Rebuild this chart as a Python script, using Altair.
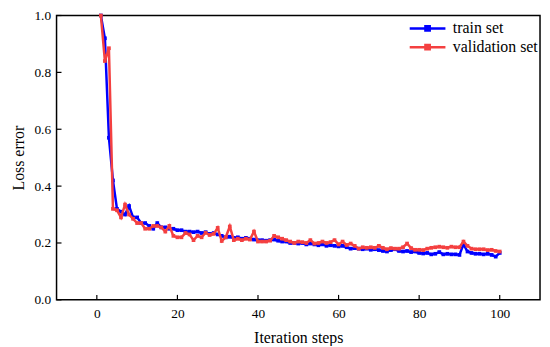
import altair as alt
import pandas as pd

steps = list(range(1, 101))

train = [1.00, 0.92, 0.57, 0.42, 0.32, 0.31, 0.30, 0.33, 0.29, 0.29,
         0.27, 0.27, 0.26, 0.25, 0.27, 0.255, 0.255, 0.25, 0.25, 0.245,
         0.245, 0.24, 0.24, 0.238, 0.24, 0.235, 0.238, 0.232, 0.235, 0.23,
         0.225, 0.22, 0.222, 0.218, 0.22, 0.215, 0.218, 0.215, 0.212, 0.21,
         0.21, 0.208, 0.21, 0.212, 0.208, 0.205, 0.205, 0.20, 0.20, 0.198,
         0.20, 0.195, 0.198, 0.195, 0.192, 0.195, 0.19, 0.192, 0.19, 0.188,
         0.19, 0.185, 0.18, 0.182, 0.18, 0.178, 0.18, 0.176, 0.178, 0.175,
         0.172, 0.17, 0.175, 0.178, 0.172, 0.17, 0.172, 0.168, 0.17, 0.165,
         0.163, 0.165, 0.16, 0.162, 0.168, 0.16, 0.162, 0.16, 0.16, 0.158,
         0.195, 0.17, 0.165, 0.162, 0.162, 0.16, 0.162, 0.158, 0.152, 0.165]

validation = [1.00, 0.84, 0.885, 0.32, 0.315, 0.29, 0.335, 0.30, 0.285, 0.27,
              0.27, 0.25, 0.25, 0.26, 0.26, 0.255, 0.24, 0.26, 0.225, 0.22,
              0.22, 0.235, 0.23, 0.21, 0.225, 0.22, 0.236, 0.228, 0.232, 0.253,
              0.207, 0.22, 0.258, 0.21, 0.215, 0.21, 0.215, 0.212, 0.24, 0.205,
              0.205, 0.205, 0.208, 0.225, 0.22, 0.215, 0.21, 0.205, 0.20, 0.205,
              0.203, 0.20, 0.21, 0.198, 0.20, 0.205, 0.20, 0.203, 0.21, 0.195,
              0.205, 0.193, 0.198, 0.19, 0.18, 0.185, 0.183, 0.185, 0.183, 0.19,
              0.183, 0.178, 0.182, 0.18, 0.18, 0.185, 0.198, 0.182, 0.176, 0.176,
              0.175, 0.18, 0.183, 0.185, 0.187, 0.185, 0.183, 0.187, 0.185, 0.185,
              0.205, 0.19, 0.18, 0.178, 0.178, 0.178, 0.175, 0.176, 0.172, 0.17]

series_names = ["train set", "validation set"]
series_colors = ["#0000ff", "#f44040"]
x_ticks = [0, 20, 40, 60, 80, 100]
y_ticks = [0.0, 0.2, 0.4, 0.6, 0.8, 1.0]

df = pd.DataFrame({
    "step": steps * 2,
    "loss": train + validation,
    "set": [series_names[0]] * len(steps) + [series_names[1]] * len(steps),
})

W, H = 488, 287
FONT = "Liberation Serif"

xscale = alt.Scale(domain=[-10, 110], nice=False, zero=False)
yscale = alt.Scale(domain=[0, 1], nice=False)

color = alt.Color(
    "set:N",
    scale=alt.Scale(domain=series_names, range=series_colors),
    legend=alt.Legend(
        title=None, orient="none", legendX=355, legendY=5,
        symbolType="M-1,0L1,0M-0.12,-0.12L0.12,-0.12L0.12,0.12L-0.12,0.12Z",
        symbolSize=1300, symbolStrokeWidth=2.5, symbolFillColor="transparent",
        clipHeight=16,
        labelFont=FONT, labelFontSize=16, labelColor="black",
        rowPadding=3, labelOffset=6,
    ),
)

xaxis = alt.Axis(values=x_ticks, format="d", labelFont=FONT, labelFontSize=13.5,
                 labelColor="black", labelPadding=7, titlePadding=10,
                 titleFont=FONT, titleFontSize=16, titleFontWeight="normal",
                 titleColor="black", domain=False, ticks=False, grid=False)
yaxis = alt.Axis(values=y_ticks, format=".1f", labelFont=FONT, labelFontSize=13.5,
                 labelColor="black", labelPadding=6, titlePadding=7,
                 titleFont=FONT, titleFontSize=16, titleFontWeight="normal",
                 titleColor="black", domain=False, ticks=False, grid=False)

base = alt.Chart(df).mark_line(
    strokeWidth=2.5,
    point=alt.OverlayMarkDef(shape="square", size=14, filled=True),
).encode(
    x=alt.X("step:Q", scale=xscale, title="Iteration steps", axis=xaxis),
    y=alt.Y("loss:Q", scale=yscale, title="Loss error", axis=yaxis),
    color=color,
)

train_line = base.transform_filter(alt.datum.set == series_names[0])
val_line = base.transform_filter(alt.datum.set == series_names[1])

xt = alt.Chart(pd.DataFrame({"t": x_ticks})).mark_rule(color="black", strokeWidth=1.2).encode(
    x=alt.X("t:Q", scale=xscale, title="Iteration steps", axis=xaxis),
    y=alt.value(H), y2=alt.value(H - 5))
yt = alt.Chart(pd.DataFrame({"t": y_ticks})).mark_rule(color="black", strokeWidth=1.2).encode(
    y=alt.Y("t:Q", scale=yscale, title="Loss error", axis=yaxis),
    x=alt.value(0), x2=alt.value(5))

chart = alt.layer(train_line, val_line, xt, yt).properties(
    width=W, height=H,
    autosize=alt.AutoSizeParams(type="none"),
    padding={"left": 49, "top": 6, "right": 2, "bottom": 45},
).configure_view(
    stroke="black", strokeWidth=1.5,
)

chart.save("out.html", embed_options={"renderer": "svg", "actions": False})
